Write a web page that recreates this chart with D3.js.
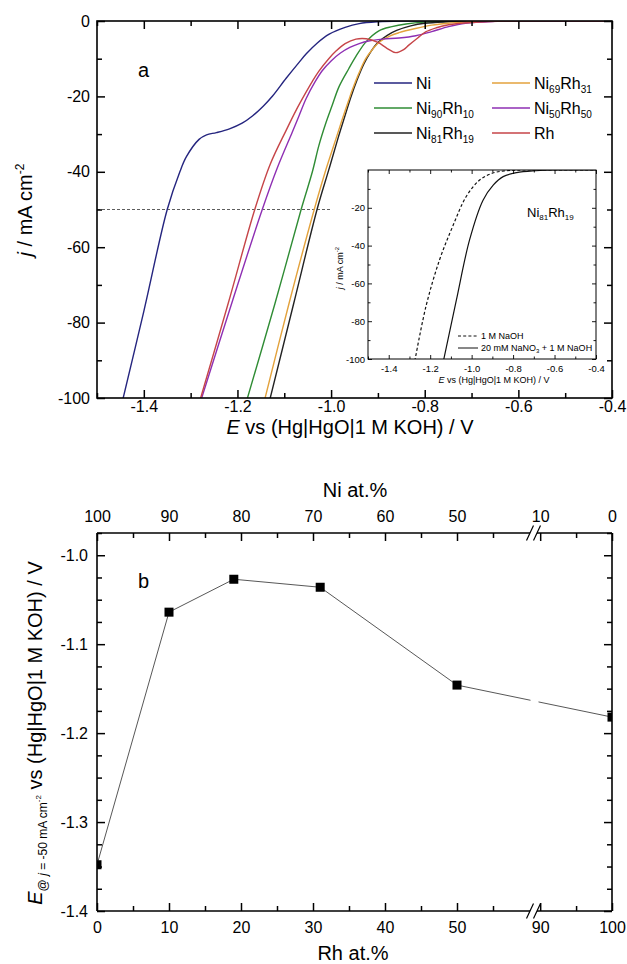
<html><head>
<script src="https://d3js.org/d3.v7.min.js"></script>
<style>
  body { margin: 0; background: #fff; }
</style>
</head>
<body>
<svg id="chart" width="627" height="964"></svg>
<script>
// ---------- data: panel a (E / V, j / mA cm-2) ----------
const seriesNames = ["Ni", "Ni_90Rh_10", "Ni_81Rh_19", "Ni_69Rh_31", "Ni_50Rh_50", "Rh"];
const seriesColors = ["#25257f", "#2f8c34", "#222222", "#e3a23c", "#8e2fb3", "#c64548"];

const ni = [[-1.446,-101],[-1.40,-77],[-1.35,-50],[-1.323,-40],[-1.309,-36],[-1.282,-31.4],[-1.266,-30.2],[-1.245,-29.6],
  [-1.217,-28.6],[-1.19,-27.1],[-1.168,-25.2],[-1.145,-22.6],[-1.125,-19.9],[-1.096,-15.2],[-1.068,-10.9],
  [-1.053,-8.7],[-1.03,-5.9],[-1.004,-3.5],[-0.97,-1.7],[-0.94,-0.7],[-0.90,-0.2],[-0.85,0],[-0.40,0]];
const ni90rh10 = [[-1.181,-101],[-1.12,-75],[-1.064,-50],[-1.04,-40],[-1.026,-33],[-1.011,-27],[-0.998,-22.5],
  [-0.983,-17.4],[-0.962,-12.6],[-0.947,-9.4],[-0.926,-5.6],[-0.898,-2.6],[-0.87,-1.5],[-0.84,-0.8],
  [-0.80,-0.3],[-0.72,0],[-0.40,0]];
const ni81rh19 = [[-1.132,-101],[-1.08,-75],[-1.030,-50],[-1.005,-39.5],[-0.985,-31],[-0.972,-25.8],[-0.958,-20.3],
  [-0.945,-15.8],[-0.93,-11.4],[-0.915,-8.1],[-0.90,-5.7],[-0.88,-3.8],[-0.86,-2.5],[-0.83,-1.3],[-0.80,-0.6],
  [-0.75,-0.2],[-0.70,0],[-0.40,0]];
const ni69rh31 = [[-1.143,-101],[-1.09,-75],[-1.036,-50],[-1.01,-39],[-0.989,-31],[-0.977,-26.4],[-0.962,-20.9],
  [-0.955,-18.4],[-0.94,-13.7],[-0.926,-10],[-0.91,-7.3],[-0.898,-5.7],[-0.875,-4.0],[-0.855,-3.1],[-0.82,-2.0],
  [-0.785,-1.1],[-0.75,-0.6],[-0.713,-0.3],[-0.65,0],[-0.40,0]];
const ni50rh50 = [[-1.279,-101],[-1.21,-74],[-1.147,-50],[-1.115,-39],[-1.083,-29.5],[-1.068,-25],[-1.053,-20.5],
  [-1.035,-16.3],[-1.019,-13.2],[-1.0,-10.6],[-0.98,-8.5],[-0.96,-7.0],[-0.94,-6.0],[-0.92,-5.3],[-0.89,-4.8],
  [-0.855,-4.5],[-0.819,-3.9],[-0.785,-2.8],[-0.749,-1.5],[-0.713,-0.6],[-0.65,-0.1],[-0.60,0],[-0.40,0]];
const rh = [[-1.281,-101],[-1.22,-75],[-1.163,-50],[-1.13,-38],[-1.096,-29],[-1.074,-23.5],[-1.055,-19.2],
  [-1.04,-16],[-1.026,-13.3],[-1.005,-10],[-0.989,-7.9],[-0.97,-6.0],[-0.947,-4.8],[-0.925,-4.7],[-0.90,-5.7],
  [-0.88,-7.3],[-0.862,-8.4],[-0.845,-7.6],[-0.834,-6.4],[-0.815,-4.5],[-0.798,-2.9],[-0.775,-1.8],[-0.749,-1.0],
  [-0.70,-0.4],[-0.60,0],[-0.40,0]];
const seriesData = [ni, ni90rh10, ni81rh19, ni69rh31, ni50rh50, rh];

// inset: Ni81Rh19 with / without nitrate
const insetNames = ["1 M NaOH", "20 mM NaNO_3 + 1 M NaOH"];
const insetNaOH = [[-1.274,-101],[-1.22,-72],[-1.155,-47.6],[-1.092,-30],[-1.026,-14],[-0.961,-5.3],[-0.898,-1.6],
  [-0.83,-0.4],[-0.75,0],[-0.40,0]];
const insetNitrate = [[-1.136,-101],[-1.074,-69],[-1.01,-37],[-0.945,-16],[-0.896,-8],[-0.848,-3.5],[-0.783,-1.4],
  [-0.69,-0.4],[-0.60,0],[-0.40,0]];

// ---------- data: panel b ----------
const rhPct = [0, 10, 19, 31, 50, 100];
const ePot = [-1.348, -1.064, -1.027, -1.036, -1.146, -1.182];
const rhMajor = [0, 10, 20, 30, 40, 50, 90, 100];
const rhMinor = [5, 15, 25, 35, 45, 55, 95];

const FONT = "'Liberation Sans', Arial, Helvetica, sans-serif";
const svg = d3.select("#chart").attr("font-family", FONT);

function addAxis(g, axis, tr, vals, size, fmt, pad, fs, sw) {
  const a = g.append("g").attr("transform", tr)
    .call(axis.tickValues(vals).tickSize(size).tickPadding(pad).tickFormat(fmt || (() => "")));
  a.select(".domain").remove();
  a.attr("font-size", fs).attr("font-family", FONT);
  a.selectAll("line").attr("stroke-width", sw);
  return a;
}

function richLabel(sel, str, size, subSize) {
  const d = subSize * 0.4;
  let down = false;
  str.split(/(_\d+)/).filter(s => s).forEach(p => {
    const t = sel.append("tspan");
    if (p[0] === "_") { t.attr("font-size", subSize).attr("dy", d).text(p.slice(1)); down = true; }
    else { t.attr("font-size", size).text(p); if (down) { t.attr("dy", -d); down = false; } }
  });
}

// ================= panel a =================
const pa = {l: 97, r: 612, t: 21, b: 398};
const xA = d3.scaleLinear().domain([-1.5, -0.4]).range([pa.l, pa.r]);
const yA = d3.scaleLinear().domain([-100, 0]).range([pa.b, pa.t]);
const gA = svg.append("g");

svg.append("clipPath").attr("id", "clipA").append("rect")
  .attr("x", pa.l).attr("y", pa.t).attr("width", pa.r - pa.l).attr("height", pa.b - pa.t);

const lineA = d3.line().x(d => xA(d[0])).y(d => yA(d[1])).curve(d3.curveCatmullRom.alpha(0.5));

// reference line at -50 mA cm-2
gA.append("line")
  .attr("x1", xA(-1.5)).attr("x2", xA(-1.0)).attr("y1", yA(-50)).attr("y2", yA(-50))
  .attr("stroke", "#333").attr("stroke-width", 0.8).attr("stroke-dasharray", "3,2");

gA.append("g").attr("clip-path", "url(#clipA)")
  .selectAll("path").data(seriesData).join("path")
  .attr("d", lineA).attr("fill", "none")
  .attr("stroke", (d, i) => seriesColors[i]).attr("stroke-width", 1.4);

const xMajA = [-1.4, -1.2, -1.0, -0.8, -0.6, -0.4];
const xMinA = [-1.5, -1.3, -1.1, -0.9, -0.7, -0.5];
const yMajA = [-100, -80, -60, -40, -20, 0];
const yMinA = [-90, -70, -50, -30, -10];
addAxis(gA, d3.axisBottom(xA), `translate(0,${pa.b})`, xMajA, -8, d => d.toFixed(1), 3, 16, 1.5);
addAxis(gA, d3.axisBottom(xA), `translate(0,${pa.b})`, xMinA, -5, null, 3, 16, 1.5);
addAxis(gA, d3.axisTop(xA), `translate(0,${pa.t})`, xMajA, -8, null, 3, 16, 1.5);
addAxis(gA, d3.axisTop(xA), `translate(0,${pa.t})`, xMinA, -5, null, 3, 16, 1.5);
addAxis(gA, d3.axisLeft(yA), `translate(${pa.l},0)`, yMajA, -8, d => d, 7, 16, 1.5);
addAxis(gA, d3.axisLeft(yA), `translate(${pa.l},0)`, yMinA, -5, null, 7, 16, 1.5);
addAxis(gA, d3.axisRight(yA), `translate(${pa.r},0)`, yMajA, -8, null, 3, 16, 1.5);
addAxis(gA, d3.axisRight(yA), `translate(${pa.r},0)`, yMinA, -5, null, 3, 16, 1.5);
gA.append("rect").attr("x", pa.l).attr("y", pa.t).attr("width", pa.r - pa.l).attr("height", pa.b - pa.t)
  .attr("fill", "none").attr("stroke", "#000").attr("stroke-width", 1.6);

gA.append("text").attr("x", 138).attr("y", 77).attr("font-size", 20).text("a");

// axis titles
const xtA = gA.append("text").attr("x", 350).attr("y", 434).attr("text-anchor", "middle").attr("font-size", 20);
xtA.append("tspan").attr("font-style", "italic").text("E");
xtA.append("tspan").text(" vs (Hg|HgO|1 M KOH) / V");
const ytA = gA.append("text").attr("transform", "translate(32,210) rotate(-90)").attr("text-anchor", "middle").attr("font-size", 20);
ytA.append("tspan").attr("font-style", "italic").text("j");
ytA.append("tspan").text(" / mA cm");
ytA.append("tspan").attr("font-size", 12).attr("dy", -8).text("-2");

// legend
const leg = gA.append("g");
seriesNames.forEach((name, i) => {
  const lx = i < 3 ? 374 : 492, ly = 83 + (i % 3) * 25;
  leg.append("line").attr("x1", lx).attr("x2", lx + 38).attr("y1", ly).attr("y2", ly)
    .attr("stroke", seriesColors[i]).attr("stroke-width", 1.5);
  const t = leg.append("text").attr("x", lx + 42).attr("y", ly + 6);
  richLabel(t, name, 16, 10);
});

// ---------- inset ----------
const pi = {l: 368, r: 596, t: 170, b: 359};
const xI = d3.scaleLinear().domain([-1.5, -0.4]).range([pi.l, pi.r]);
const yI = d3.scaleLinear().domain([-100, 0]).range([pi.b, pi.t]);
const gI = svg.append("g");
gI.append("rect").attr("x", pi.l).attr("y", pi.t).attr("width", pi.r - pi.l).attr("height", pi.b - pi.t).attr("fill", "#fff");
svg.append("clipPath").attr("id", "clipI").append("rect")
  .attr("x", pi.l).attr("y", pi.t).attr("width", pi.r - pi.l).attr("height", pi.b - pi.t);
const lineI = d3.line().x(d => xI(d[0])).y(d => yI(d[1])).curve(d3.curveCatmullRom.alpha(0.5));
const insetData = [insetNaOH, insetNitrate];
const insetDash = ["3,2.2", null];
gI.append("g").attr("clip-path", "url(#clipI)")
  .selectAll("path").data(insetData).join("path")
  .attr("d", lineI).attr("fill", "none").attr("stroke", "#111").attr("stroke-width", 1.2)
  .attr("stroke-dasharray", (d, i) => insetDash[i]);

const yMajI = [-100, -80, -60, -40, -20];
const yMinI = [-90, -70, -50, -30, -10];
addAxis(gI, d3.axisBottom(xI), `translate(0,${pi.b})`, xMajA, -4, d => d.toFixed(1), 6, 9.5, 0.9);
addAxis(gI, d3.axisBottom(xI), `translate(0,${pi.b})`, xMinA, -2.5, null, 6, 9.5, 0.9);
addAxis(gI, d3.axisTop(xI), `translate(0,${pi.t})`, xMajA, -4, null, 3, 9.5, 0.9);
addAxis(gI, d3.axisTop(xI), `translate(0,${pi.t})`, xMinA, -2.5, null, 3, 9.5, 0.9);
addAxis(gI, d3.axisLeft(yI), `translate(${pi.l},0)`, yMajI, -4, d => d, 3, 9.5, 0.9);
addAxis(gI, d3.axisLeft(yI), `translate(${pi.l},0)`, yMinI, -2.5, null, 3, 9.5, 0.9);
addAxis(gI, d3.axisRight(yI), `translate(${pi.r},0)`, yMajI, -4, null, 3, 9.5, 0.9);
addAxis(gI, d3.axisRight(yI), `translate(${pi.r},0)`, yMinI, -2.5, null, 3, 9.5, 0.9);
gI.append("rect").attr("x", pi.l).attr("y", pi.t).attr("width", pi.r - pi.l).attr("height", pi.b - pi.t)
  .attr("fill", "none").attr("stroke", "#000").attr("stroke-width", 1);

const xtI = gI.append("text").attr("x", 494).attr("y", 383).attr("text-anchor", "middle").attr("font-size", 9);
xtI.append("tspan").attr("font-style", "italic").text("E");
xtI.append("tspan").text(" vs (Hg|HgO|1 M KOH) / V");
const ytI = gI.append("text").attr("transform", "translate(343,268) rotate(-90)").attr("text-anchor", "middle").attr("font-size", 9);
ytI.append("tspan").attr("font-style", "italic").text("j");
ytI.append("tspan").text(" / mA cm");
ytI.append("tspan").attr("font-size", 6).attr("dy", -4).text("-2");

richLabel(gI.append("text").attr("x", 527).attr("y", 217), "Ni_81Rh_19", 13, 8);

insetNames.forEach((name, i) => {
  const ly = 336 + i * 12;
  gI.append("line").attr("x1", 458).attr("x2", 478).attr("y1", ly).attr("y2", ly)
    .attr("stroke", "#111").attr("stroke-width", 1).attr("stroke-dasharray", insetDash[i]);
  richLabel(gI.append("text").attr("x", 481).attr("y", ly + 3), name, 9, 6);
});

// ================= panel b =================
const pb = {l: 97, r: 612, t: 533, b: 911};
const xB = d3.scaleLinear().domain([0, 60, 89, 100]).range([97, 529, 533, 612]);
const yB = d3.scaleLinear().domain([-1.4, -0.975]).range([pb.b, pb.t]);
const gB = svg.append("g");

const yMajB = [-1.4, -1.3, -1.2, -1.1, -1.0];
const yMinB = d3.range(-55, -38).map(k => k * 0.025).filter(v => Math.abs(v * 10 - Math.round(v * 10)) > 1e-6);

addAxis(gB, d3.axisBottom(xB), `translate(0,${pb.b})`, rhMajor, -8, d => d, 10.5, 16, 1.5);
addAxis(gB, d3.axisBottom(xB), `translate(0,${pb.b})`, rhMinor, -5, null, 10.5, 16, 1.5);
addAxis(gB, d3.axisTop(xB), `translate(0,${pb.t})`, rhMajor, -8, d => 100 - d, 11, 16, 1.5);
addAxis(gB, d3.axisTop(xB), `translate(0,${pb.t})`, rhMinor, -5, null, 11, 16, 1.5);
addAxis(gB, d3.axisLeft(yB), `translate(${pb.l},0)`, yMajB, -8, d => d.toFixed(1), 9, 16, 1.5);
addAxis(gB, d3.axisLeft(yB), `translate(${pb.l},0)`, yMinB, -5, null, 9, 16, 1.5);
addAxis(gB, d3.axisRight(yB), `translate(${pb.r},0)`, yMajB, -8, null, 3, 16, 1.5);
addAxis(gB, d3.axisRight(yB), `translate(${pb.r},0)`, yMinB, -5, null, 3, 16, 1.5);

// frame with axis break
const bx1 = xB(60) + 1, bx2 = bx1 + 7;
const frame = gB.append("g").attr("stroke", "#000").attr("stroke-width", 1.6).attr("fill", "none");
frame.append("line").attr("x1", pb.l).attr("x2", pb.l).attr("y1", pb.t).attr("y2", pb.b);
frame.append("line").attr("x1", pb.r).attr("x2", pb.r).attr("y1", pb.t).attr("y2", pb.b);
[pb.t, pb.b].forEach(yy => {
  frame.append("line").attr("x1", pb.l).attr("x2", bx1).attr("y1", yy).attr("y2", yy);
  frame.append("line").attr("x1", bx2).attr("x2", pb.r).attr("y1", yy).attr("y2", yy);
  [bx1, bx2].forEach(cx => {
    frame.append("line").attr("x1", cx - 3.5).attr("x2", cx + 3.5).attr("y1", yy + 7.5).attr("y2", yy - 7.5)
      .attr("stroke-width", 1.2);
  });
});

// data line (broken at axis break) and markers
const clipB = svg.append("clipPath").attr("id", "clipBline");
clipB.append("rect").attr("x", pb.l).attr("y", pb.t).attr("width", bx1 + 0.5 - pb.l).attr("height", pb.b - pb.t);
clipB.append("rect").attr("x", bx2 + 1.5).attr("y", pb.t).attr("width", pb.r - bx2 - 1.5).attr("height", pb.b - pb.t);
svg.append("clipPath").attr("id", "clipB").append("rect")
  .attr("x", pb.l).attr("y", pb.t).attr("width", pb.r - pb.l).attr("height", pb.b - pb.t);

const ptsB = rhPct.map((r, i) => [r, ePot[i]]);
gB.append("path").datum(ptsB).attr("clip-path", "url(#clipBline)")
  .attr("d", d3.line().x(d => xB(d[0])).y(d => yB(d[1])))
  .attr("fill", "none").attr("stroke", "#444").attr("stroke-width", 0.9);
gB.append("g").attr("clip-path", "url(#clipB)")
  .selectAll("rect").data(ptsB).join("rect")
  .attr("x", d => xB(d[0]) - 4.5).attr("y", d => yB(d[1]) - 4.5)
  .attr("width", 9).attr("height", 9).attr("fill", "#000");

gB.append("text").attr("x", 138).attr("y", 588).attr("font-size", 20).text("b");

gB.append("text").attr("x", 355).attr("y", 497).attr("text-anchor", "middle").attr("font-size", 20).text("Ni at.%");
gB.append("text").attr("x", 353).attr("y", 960).attr("text-anchor", "middle").attr("font-size", 20).text("Rh at.%");

const ytB = gB.append("text").attr("transform", "translate(42,733) rotate(-90)").attr("text-anchor", "middle").attr("font-size", 20);
ytB.append("tspan").attr("font-style", "italic").text("E");
ytB.append("tspan").attr("font-size", 12).attr("dy", 5).text("@ ");
ytB.append("tspan").attr("font-size", 12).attr("font-style", "italic").text("j");
ytB.append("tspan").attr("font-size", 12).text(" = -50 mA cm");
ytB.append("tspan").attr("font-size", 8).attr("dy", -6).text("-2");
ytB.append("tspan").attr("dy", 1).text(" vs (Hg|HgO|1 M KOH) / V");
</script>
</body>
</html>
